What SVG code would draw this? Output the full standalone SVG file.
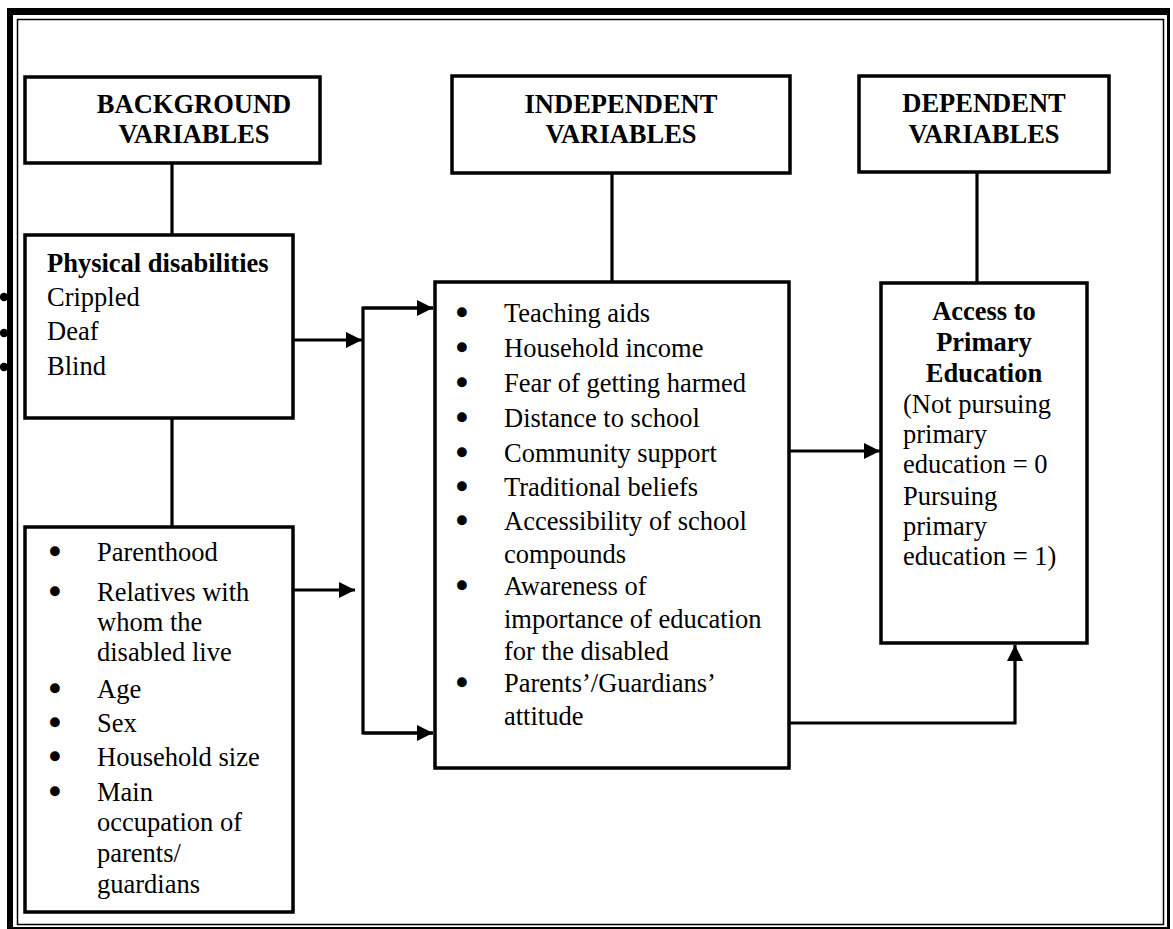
<svg xmlns="http://www.w3.org/2000/svg" width="1173" height="929" viewBox="0 0 1173 929">
<style>
text{font-family:"Liberation Serif","Times New Roman",serif;font-size:26.5px;fill:#000}
.b{font-weight:bold}
.c{text-anchor:middle}
.bl{text-anchor:middle;stroke:#000;stroke-width:3.4;stroke-linejoin:round}
.box{fill:#fff;stroke:#000;stroke-width:3.5}
.ln{fill:none;stroke:#000;stroke-width:3.2}
</style>
<defs>
<marker id="ah" markerWidth="16" markerHeight="16" refX="16" refY="8" orient="auto" markerUnits="userSpaceOnUse">
<path d="M0,0 L16,8 L0,16 Z" fill="#000"/>
</marker>
</defs>
<rect x="0" y="0" width="1173" height="929" fill="#fff"/>
<g id="stray-bullets">
<circle cx="4" cy="297" r="4.2" fill="#000"/>
<circle cx="4" cy="333" r="4.2" fill="#000"/>
<circle cx="4" cy="367" r="4.2" fill="#000"/>
</g>
<g id="frame">
<path d="M7,8 H1170 V929 H7 Z M13,15 V927 H1167 V15 Z" fill="#000" fill-rule="evenodd"/>
<rect x="17.5" y="19.5" width="1146" height="905" fill="none" stroke="#000" stroke-width="1.5"/>
</g>
<g id="connectors">
<line class="ln" x1="172" y1="163" x2="172" y2="235"/>
<line class="ln" x1="172" y1="418" x2="172" y2="527"/>
<line class="ln" x1="294" y1="340" x2="362" y2="340" marker-end="url(#ah)"/>
<line class="ln" x1="293" y1="590" x2="355" y2="590" marker-end="url(#ah)"/>
<path class="ln" d="M433,308 H363 V733 H433"/>
<line class="ln" x1="363" y1="308" x2="433" y2="308" marker-end="url(#ah)"/>
<line class="ln" x1="363" y1="733" x2="433" y2="733" marker-end="url(#ah)"/>
<line class="ln" x1="612" y1="173" x2="612" y2="282"/>
<line class="ln" x1="977" y1="172" x2="977" y2="283"/>
<line class="ln" x1="789" y1="451" x2="880" y2="451" marker-end="url(#ah)"/>
<path class="ln" d="M789,723 H1015 V645" marker-end="url(#ah)"/>
</g>
<g id="background-header">
<rect class="box" x="25" y="77" width="295" height="86"/>
<text class="b c" x="194" y="113">BACKGROUND</text>
<text class="b c" x="194" y="143">VARIABLES</text>
</g>
<g id="independent-header">
<rect class="box" x="452" y="76" width="338" height="97"/>
<text class="b c" x="621" y="113">INDEPENDENT</text>
<text class="b c" x="621" y="143">VARIABLES</text>
</g>
<g id="dependent-header">
<rect class="box" x="859" y="76" width="250" height="96"/>
<text class="b c" x="984" y="112">DEPENDENT</text>
<text class="b c" x="984" y="143">VARIABLES</text>
</g>
<g id="physical">
<rect class="box" x="25" y="235" width="268" height="183"/>
<text class="b" x="47" y="272">Physical disabilities</text>
<text x="47" y="306">Crippled</text>
<text x="47" y="340">Deaf</text>
<text x="47" y="375">Blind</text>
</g>
<g id="household">
<rect class="box" x="25" y="527" width="268" height="385"/>
<text class="bl" x="55" y="561">•</text><text x="97" y="561">Parenthood</text>
<text class="bl" x="55" y="601">•</text><text x="97" y="601">Relatives with</text>
<text x="97" y="631">whom the</text>
<text x="97" y="661">disabled live</text>
<text class="bl" x="55" y="698">•</text><text x="97" y="698">Age</text>
<text class="bl" x="55" y="732">•</text><text x="97" y="732">Sex</text>
<text class="bl" x="55" y="766">•</text><text x="97" y="766">Household size</text>
<text class="bl" x="55" y="801">•</text><text x="97" y="801">Main</text>
<text x="97" y="831">occupation of</text>
<text x="97" y="862">parents/</text>
<text x="97" y="893">guardians</text>
</g>
<g id="independent">
<rect class="box" x="435" y="282" width="354" height="486"/>
<text class="bl" x="462" y="322">•</text><text x="504" y="322">Teaching aids</text>
<text class="bl" x="462" y="357">•</text><text x="504" y="357">Household income</text>
<text class="bl" x="462" y="392">•</text><text x="504" y="392">Fear of getting harmed</text>
<text class="bl" x="462" y="427">•</text><text x="504" y="427">Distance to school</text>
<text class="bl" x="462" y="462">•</text><text x="504" y="462">Community support</text>
<text class="bl" x="462" y="496">•</text><text x="504" y="496">Traditional beliefs</text>
<text class="bl" x="462" y="530">•</text><text x="504" y="530">Accessibility of school</text>
<text x="504" y="563">compounds</text>
<text class="bl" x="462" y="595">•</text><text x="504" y="595">Awareness of</text>
<text x="504" y="628">importance of education</text>
<text x="504" y="660">for the disabled</text>
<text class="bl" x="462" y="692">•</text><text x="504" y="692">Parents’/Guardians’</text>
<text x="504" y="725">attitude</text>
</g>
<g id="access">
<rect class="box" x="881" y="283" width="206" height="360"/>
<text class="b c" x="984" y="320">Access to</text>
<text class="b c" x="984" y="351">Primary</text>
<text class="b c" x="984" y="382">Education</text>
<text x="903" y="413">(Not pursuing</text>
<text x="903" y="443">primary</text>
<text x="903" y="473">education = 0</text>
<text x="903" y="505">Pursuing</text>
<text x="903" y="535">primary</text>
<text x="903" y="565">education = 1)</text>
</g>
</svg>
